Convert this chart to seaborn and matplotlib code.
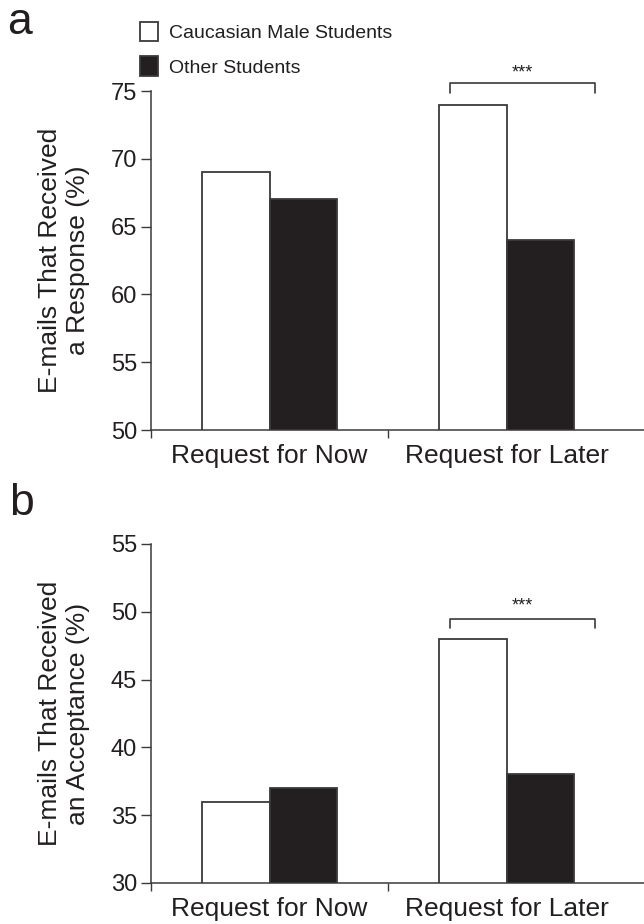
import pandas as pd
import numpy as np
import seaborn as sns
import matplotlib.pyplot as plt
from matplotlib.ticker import FixedLocator

# Data
categories = ["Request for Now", "Request for Later"]
groups = ["Caucasian Male Students", "Other Students"]
response_caucasian = [69, 74]
response_other = [67, 64]
accept_caucasian = [36, 48]
accept_other = [37, 38]

sns.set_theme(style="ticks")
plt.rcParams['font.family'] = ['Liberation Sans', 'DejaVu Sans']

ink = '#231f20'
edge = '#3a3a3a'


def make_df(cm_vals, other_vals):
    rows = []
    for cat, a, b in zip(categories, cm_vals, other_vals):
        rows.append({'request': cat, 'group': groups[0], 'pct': a})
        rows.append({'request': cat, 'group': groups[1], 'pct': b})
    return pd.DataFrame(rows)


df_resp = make_df(response_caucasian, response_other)
df_acc = make_df(accept_caucasian, accept_other)

fig = plt.figure(figsize=(6.44, 9.24), dpi=100)
ax_a = fig.add_axes([0.2345, 0.5346, 0.7655, 0.3669])
ax_b = fig.add_axes([0.2345, 0.0444, 0.7655, 0.3669])


def draw_panel(ax, df, ylim, ylabel, bracket_y, legend):
    sns.barplot(data=df, x='request', y='pct', hue='group', order=categories,
                hue_order=groups, palette=['white', ink], edgecolor=edge,
                linewidth=1.3, width=0.572, saturation=1, errorbar=None,
                legend=legend, ax=ax)
    ax.set_ylim(*ylim)
    ax.set_xlim(-0.5, 1.58)
    ax.set_yticks(np.arange(ylim[0], ylim[1] + 1, 5))
    ax.tick_params(axis='y', direction='out', length=7, width=1, color=edge,
                   labelsize=17, labelcolor=ink, pad=3)
    ax.tick_params(axis='x', which='major', length=0, labelsize=19,
                   labelcolor=ink, pad=10)
    ax.xaxis.set_minor_locator(FixedLocator([-0.5, 0.5]))
    ax.tick_params(axis='x', which='minor', direction='out', length=6,
                   width=1, color=edge)
    for s in ['top', 'right']:
        ax.spines[s].set_visible(False)
    for s in ['left', 'bottom']:
        ax.spines[s].set_color(edge)
        ax.spines[s].set_linewidth(1.1)
    ax.set_xlabel('')
    ax.set_ylabel(ylabel, fontsize=19, color=ink, linespacing=1.22, labelpad=15)
    # significance bracket over "Request for Later"
    x0, x1 = 0.76, 1.375
    top, low, star = bracket_y
    ax.plot([x0, x0, x1, x1], [low, top, top, low], color=edge, lw=1.2,
            clip_on=False)
    ax.text((x0 + x1) / 2, star, '***', ha='center', va='center',
            fontsize=13, color=ink, clip_on=False)


draw_panel(ax_a, df_resp, (50, 75), 'E-mails That Received\na Response (%)',
           (75.6, 74.85, 76.35), True)
draw_panel(ax_b, df_acc, (30, 55), 'E-mails That Received\nan Acceptance (%)',
           (49.5, 48.8, 50.4), False)

leg = ax_a.legend(loc='upper left', bbox_to_anchor=(0.205, 0.985),
                  bbox_transform=fig.transFigure, frameon=False, fontsize=14,
                  handlelength=0.95, handleheight=1.15, handletextpad=0.55,
                  labelspacing=0.75, borderaxespad=0)
for t in leg.get_texts():
    t.set_color(ink)

fig.text(0.031, 0.976, 'a', fontsize=32, color=ink, ha='center', va='center')
fig.text(0.034, 0.455, 'b', fontsize=32, color=ink, ha='center', va='center')

fig.savefig('out.png', dpi=100)
